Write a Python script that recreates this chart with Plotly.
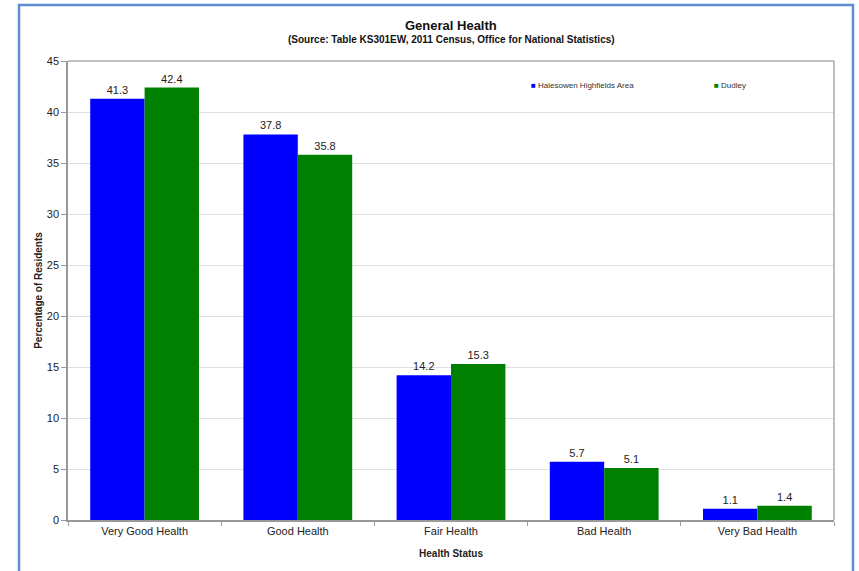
import plotly.graph_objects as go

categories = ["Very Good Health", "Good Health", "Fair Health", "Bad Health", "Very Bad Health"]
highfields = [41.3, 37.8, 14.2, 5.7, 1.1]
dudley = [42.4, 35.8, 15.3, 5.1, 1.4]
series_names = ["Halesowen Highfields Area", "Dudley"]
y_ticks = [0, 5, 10, 15, 20, 25, 30, 35, 40, 45]

W, H = 859, 571
L, R, T, B = 68, 25, 61, 51
pw, ph = W - L - R, H - T - B

def px_x(x):
    return (x - L) / pw

def px_y(y):
    return (H - B - y) / ph

fig = go.Figure()
for name, vals, col in [(series_names[0], highfields, "#0000ff"), (series_names[1], dudley, "#008000")]:
    fig.add_trace(go.Bar(
        x=categories, y=vals, name=name, marker=dict(color=col, line=dict(width=0)),
        text=[f"{v:.1f}" for v in vals], textposition="outside",
        textfont=dict(family="Arial, Liberation Sans", size=11, color="#222"),
        cliponaxis=False, showlegend=False,
    ))

fig.update_layout(
    width=W, height=H, margin=dict(l=L, r=R, t=T, b=B),
    paper_bgcolor="white", plot_bgcolor="white",
    barmode="group", bargap=0.29, bargroupgap=0,
    font=dict(family="Arial, Liberation Sans", size=11, color="#222"),
    xaxis=dict(
        showline=True, linecolor="#999", linewidth=1.5, mirror=False,
        ticks="outside", ticklen=4, tickcolor="#999", tickson="boundaries",
        tickfont=dict(size=11, color="#222"),
        title=dict(text="<b>Health Status</b>", font=dict(size=10, color="#222"), standoff=14),
    ),
    yaxis=dict(
        range=[0, 45], tickvals=y_ticks, showgrid=True, gridcolor="#e0e0e0", gridwidth=1,
        showline=True, linecolor="#999", linewidth=1.5,
        ticks="outside", ticklen=5, tickcolor="#999", zeroline=False,
        tickfont=dict(size=11, color="#222"),
        title=dict(text="<b>Percentage of Residents</b>", font=dict(size=10, color="#222"), standoff=2),
    ),
    shapes=[
        # plot-area border (top and right edges)
        dict(type="line", xref="paper", yref="paper", x0=0, x1=1, y0=1, y1=1, line=dict(color="#aaa", width=1.5)),
        dict(type="line", xref="paper", yref="paper", x0=1, x1=1, y0=0, y1=1, line=dict(color="#aaa", width=1.5)),
        # outer frame
        dict(type="rect", xref="paper", yref="paper",
             x0=px_x(19), x1=px_x(853), y0=px_y(600), y1=px_y(5),
             line=dict(color="#5f8fd3", width=2.5), layer="below"),
    ],
    annotations=[
        dict(text="<b>General Health</b>", xref="paper", yref="paper", x=0.5, y=px_y(25),
             showarrow=False, font=dict(size=13, color="#111"), yanchor="middle"),
        dict(text="<b>(Source: Table KS301EW, 2011 Census, Office for National Statistics)</b>",
             xref="paper", yref="paper", x=0.5, y=px_y(40), showarrow=False,
             font=dict(size=10, color="#111"), yanchor="middle"),
        dict(text=f"<span style='color:#0000ff'>■</span> {series_names[0]}", xref="paper", yref="paper",
             x=px_x(529), y=px_y(86), xanchor="left", yanchor="middle", showarrow=False,
             font=dict(size=8, color="#333")),
        dict(text=f"<span style='color:#008000'>■</span> {series_names[1]}", xref="paper", yref="paper",
             x=px_x(712), y=px_y(86), xanchor="left", yanchor="middle", showarrow=False,
             font=dict(size=8, color="#333")),
    ],
)

fig.write_html("out.html")
